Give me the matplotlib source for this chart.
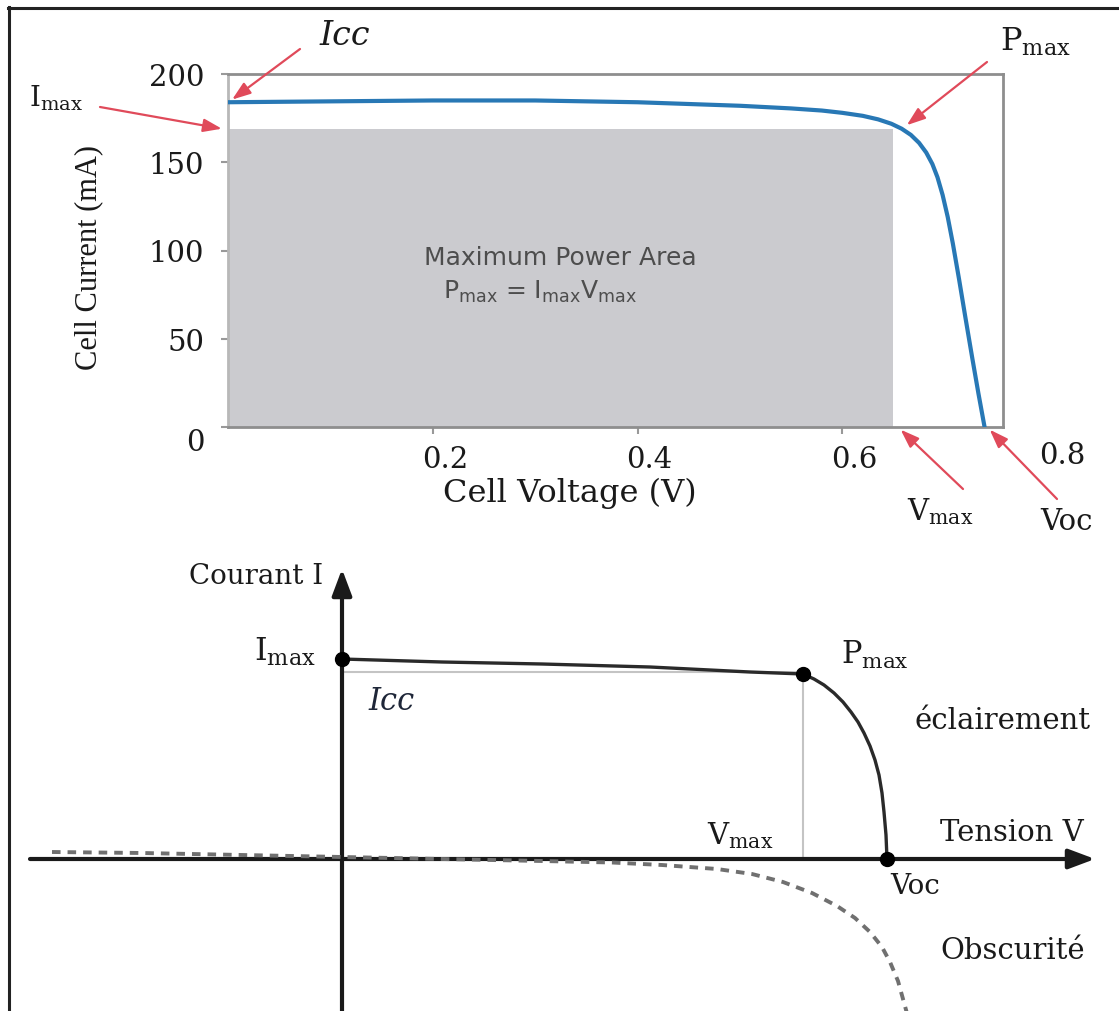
import matplotlib
matplotlib.use('Agg')
import matplotlib.pyplot as plt
import matplotlib.transforms as mtransforms
from matplotlib.lines import Line2D
from matplotlib.patches import Rectangle

plt.rcParams['font.family'] = ['DejaVu Serif']
plt.rcParams['mathtext.fontset'] = 'dejavuserif'

W, H = 1119, 1012

# top chart: measured I-V curve of the cell (V, mA)
cell_v = [0.0, 0.1, 0.2, 0.3, 0.4, 0.5, 0.55, 0.58, 0.6, 0.62, 0.635, 0.648,
          0.658, 0.667, 0.675, 0.682, 0.688, 0.693, 0.698, 0.703, 0.708,
          0.714, 0.72, 0.727, 0.733, 0.739]
cell_i = [184, 184.5, 185, 185, 184, 182, 180.5, 179.3, 178, 176.3, 174.3, 171.8,
          169, 165.5, 161, 155.5, 149, 141.5, 131.5, 119, 104,
          84, 63, 39, 19, 0]
v_max = 0.65     # V at max power
i_max = 169      # mA at max power
x_ticks = [0.2, 0.4, 0.6]
y_ticks = [0, 50, 100, 150, 200]

# bottom sketch: arbitrary units
illum_v = [0.0, 1.0, 2.0, 3.08, 4.08, 4.61, 4.72, 4.82, 4.92, 5.01, 5.09,
           5.16, 5.22, 5.28, 5.33, 5.37, 5.40, 5.42, 5.44, 5.45]
illum_i = [2.00, 1.97, 1.95, 1.92, 1.87, 1.85, 1.80, 1.74, 1.66, 1.57, 1.47,
           1.37, 1.26, 1.13, 0.99, 0.84, 0.66, 0.47, 0.24, 0.0]
dark_v = [-2.9, -2.0, -1.0, 0.0, 1.0, 2.0, 2.7, 3.2, 3.75, 4.1, 4.41,
          4.7, 4.95, 5.13, 5.28, 5.4, 5.48, 5.56, 5.61, 5.66]
dark_i = [0.07, 0.06, 0.04, 0.02, 0.0, -0.02, -0.035, -0.06, -0.10, -0.15, -0.23,
          -0.34, -0.47, -0.59, -0.73, -0.88, -1.03, -1.22, -1.40, -1.58]
pts_v = [0.0, 4.61, 5.45]   # Imax, Pmax, Voc
pts_i = [2.00, 1.85, 0.0]

fig = plt.figure(figsize=(W / 100, H / 100), dpi=100)


def ftext(px, py, s, **kw):
    kw.setdefault('ha', 'center')
    kw.setdefault('va', 'center')
    kw.setdefault('color', '#1a1a1a')
    return fig.text(px / W, 1 - py / H, s, **kw)


def fpix(px, py):
    return (px, H - py)


# ---------------- top chart ----------------
ax1 = fig.add_axes([228 / W, 1 - 428 / H, 775 / W, 353 / H])
ax1.add_patch(Rectangle((0, 0), v_max, i_max, color='#cbcbcf', lw=0, zorder=1))
ax1.plot(cell_v, cell_i, color='#2878b5', lw=3, zorder=3, solid_capstyle='round',
         solid_joinstyle='round')
ax1.set_xlim(0, 0.757)
ax1.set_ylim(0, 200)
ax1.set_xticks(x_ticks)
ax1.set_xticklabels(['0.2', '0.4', '0.6'])
ax1.set_yticks(y_ticks)
ax1.tick_params(axis='both', labelsize=21, colors='#999999', labelcolor='#1a1a1a',
                length=5, width=1.5)
ax1.tick_params(axis='y', pad=12)
ax1.tick_params(axis='x', pad=8)
for name, sp in ax1.spines.items():
    sp.set_color('#8e8e8e')
    sp.set_linewidth(2)
ax1.spines['left'].set_color('#b8b8b8')

off = mtransforms.ScaledTranslation(12 / 100, 0, fig.dpi_scale_trans)
for lab in ax1.get_xticklabels():
    lab.set_transform(lab.get_transform() + off)
ylabs = ax1.get_yticklabels()
ylabs[0].set_transform(ylabs[0].get_transform()
                       + mtransforms.ScaledTranslation(0, -12 / 100, fig.dpi_scale_trans))
ftext(1062, 456, '0.8', size=21)

ax1.set_ylabel('Cell Current (mA)', family='Liberation Serif', size=22, color='#1a1a1a')
ax1.yaxis.set_label_coords((103 - 228) / 775, (428 - 257) / 353)
ax1.set_xlabel('Cell Voltage (V)', size=23, color='#1a1a1a')
ax1.xaxis.set_label_coords((570 - 228) / 775, (428 - 478) / 353)

ftext(560, 258, 'Maximum Power Area', family='DejaVu Sans', size=18, color='#4d4d4d')
ftext(540, 292, r'P$_{\mathrm{max}}$ = I$_{\mathrm{max}}$V$_{\mathrm{max}}$',
      family='DejaVu Sans', math_fontfamily='dejavusans', size=18, color='#4d4d4d')

red = dict(arrowstyle='-|>,head_length=0.7,head_width=0.25', color='#e04a5a',
           lw=1.6, mutation_scale=16, shrinkA=0, shrinkB=0)
arrows = [
    ((cell_v[0] + 0.004, cell_i[0] + 1.5), fpix(300, 50)),   # Icc
    ((-0.006, i_max), fpix(100, 108)),                         # Imax
    ((v_max + 0.013, i_max + 2), fpix(987, 63)),              # Pmax
    ((v_max + 0.007, -1.5), fpix(963, 490)),                  # Vmax
    ((cell_v[-1] + 0.005, -1.5), fpix(1057, 500)),            # Voc
]
for tip, tail in arrows:
    ax1.annotate('', xy=tip, xycoords='data', xytext=tail,
                 textcoords='figure pixels', arrowprops=red, annotation_clip=False)

ftext(345, 36, 'Icc', style='italic', size=24)
ftext(56, 98, r'I$_{\mathrm{max}}$', size=20)
ftext(1035, 42, r'P$_{\mathrm{max}}$', size=23)
ftext(940, 512, r'V$_{\mathrm{max}}$', size=21)
ftext(1066, 522, 'Voc', size=21)

# ---------------- bottom sketch ----------------
ax2 = fig.add_axes([0, 0, 1, 462 / H])
ax2.set_xlim(-3.42, 7.77)
ax2.set_ylim(-1.52, 3.10)
ax2.axis('off')

axis_arrow = dict(arrowstyle='-|>,head_length=0.8,head_width=0.3', color='#1a1a1a',
                  lw=3, mutation_scale=20, shrinkA=0, shrinkB=0)
ax2.annotate('', xy=(7.53, 0), xytext=(-3.12, 0), arrowprops=axis_arrow)
ax2.annotate('', xy=(0, 2.90), xytext=(0, -1.7), arrowprops=axis_arrow,
             annotation_clip=False)

ax2.plot([0, pts_v[1]], [1.87, 1.87], color='#c4c4c4', lw=1.5, zorder=2)
ax2.plot([pts_v[1], pts_v[1]], [pts_i[1], 0], color='#c4c4c4', lw=1.5, zorder=2)
ax2.plot(dark_v, dark_i, color='#707070', lw=2.8, dashes=(2.2, 1.8), zorder=3)
ax2.plot(illum_v, illum_i, color='#2a2a2a', lw=2.4, zorder=4, solid_joinstyle='round')
ax2.plot(pts_v, pts_i, 'o', color='black', ms=10, zorder=5)

ftext(323, 577, 'Courant I', size=20, ha='right')
ftext(316, 652, r'I$_{\mathrm{max}}$', size=23, ha='right')
ftext(392, 702, 'Icc', style='italic', size=22, color='#1e2638')
ftext(875, 655, r'P$_{\mathrm{max}}$', size=22)
ftext(1002, 721, 'éclairement', size=21)
ftext(740, 836, r'V$_{\mathrm{max}}$', size=21)
ftext(1012, 833, 'Tension V', size=21)
ftext(915, 886, 'Voc', size=20)
ftext(1013, 951, 'Obscurité', size=21)

# outer frame (top and left edges only)
fig.add_artist(Line2D([8 / W, 1.0], [1 - 9 / H, 1 - 9 / H], transform=fig.transFigure,
                      color='#222222', lw=2.2))
fig.add_artist(Line2D([9 / W, 9 / W], [0, 1 - 8 / H], transform=fig.transFigure,
                      color='#222222', lw=2.2))

fig.savefig('out.png', dpi=100)
